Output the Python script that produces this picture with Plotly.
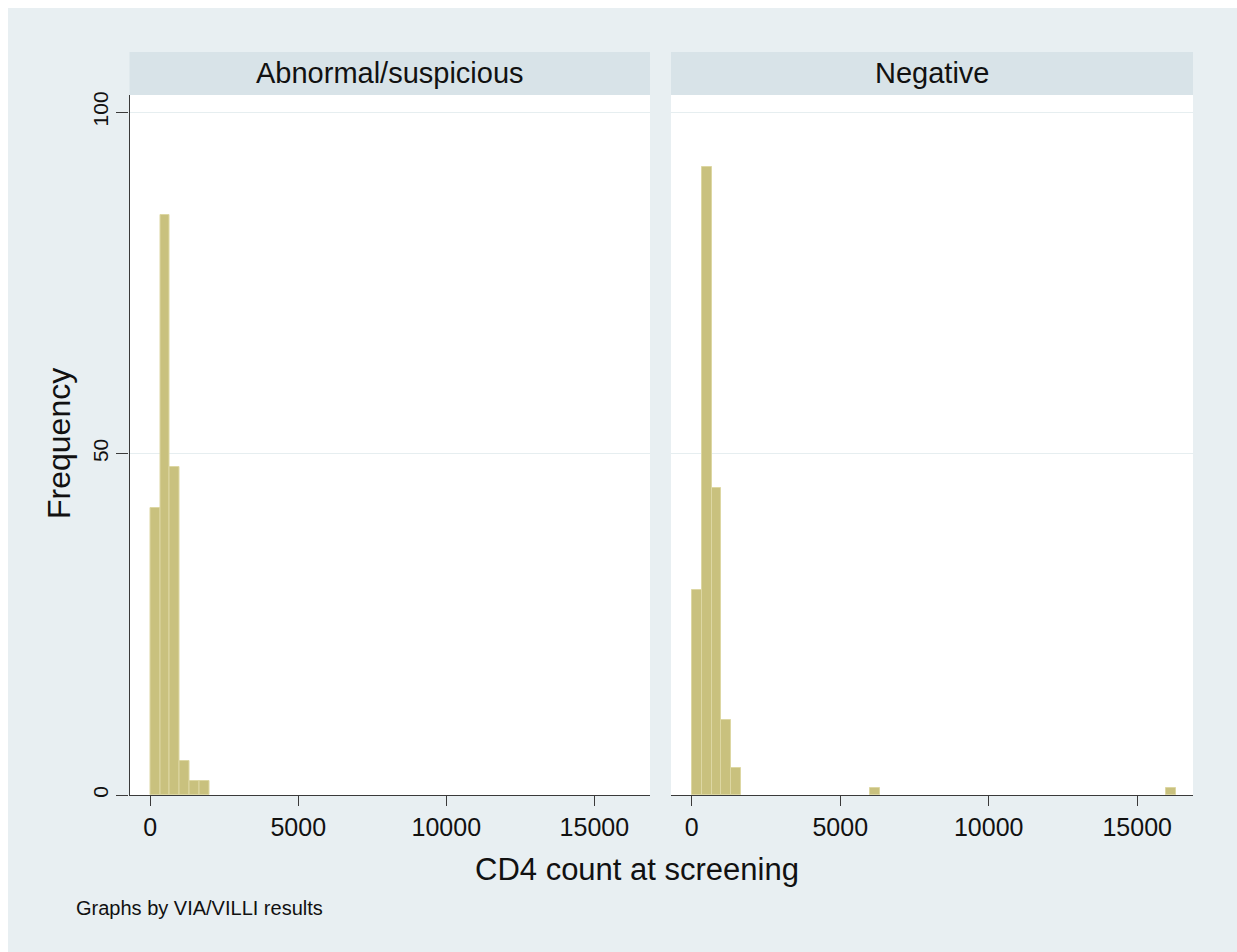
import plotly.graph_objects as go

# ---------------- data ----------------
panel_titles = ["Abnormal/suspicious", "Negative"]
bin_width = 333
abn_bin_start = [0, 333, 666, 999, 1332, 1665]
abn_freq = [42, 85, 48, 5, 2, 2]
neg_bin_start = [0, 333, 666, 999, 1332, 5994, 15984]
neg_freq = [30, 92, 45, 11, 4, 1, 1]
x_tick_vals = [0, 5000, 10000, 15000]
y_tick_vals = [0, 50, 100]
x_title = "CD4 count at screening"
y_title = "Frequency"
note = "Graphs by VIA/VILLI results"

# ---------------- layout helpers ----------------
W, H = 1237, 952


def fx(px):
    return px / W


def fy(py):
    return 1 - py / H


BG = "#e8eff2"
STRIP = "#d8e3e8"
BAR = "#c9c17e"
BAR_LINE = "#ddd7a3"
AX = "#3a3a3a"
TXT = "#111111"
FONT = "Liberation Sans, Arial, sans-serif"

panels = [
    dict(x0=129.5, x1=650, starts=abn_bin_start, freq=abn_freq, xa="x", ya="y"),
    dict(x0=671, x1=1193, starts=neg_bin_start, freq=neg_freq, xa="x2", ya="y2"),
]
plot_top, plot_bot = 95, 795
strip_top = 52

fig = go.Figure()
for p in panels:
    fig.add_trace(go.Bar(
        x=p["starts"], y=p["freq"], width=bin_width, offset=0,
        xaxis=p["xa"], yaxis=p["ya"],
        marker=dict(color=BAR, line=dict(color=BAR_LINE, width=1)),
        showlegend=False, hoverinfo="x+y",
    ))

xaxis_common = dict(
    range=[-700, 16880], showline=True, linecolor=AX, linewidth=1.3,
    ticks="outside", ticklen=10, tickwidth=1.3, tickcolor=AX,
    tickvals=x_tick_vals, ticktext=[str(v) for v in x_tick_vals],
    tickfont=dict(family=FONT, size=25, color=TXT),
    showgrid=False, zeroline=False, automargin=False, fixedrange=True,
)
yaxis_common = dict(
    range=[0, 102.5], domain=[fy(plot_bot), fy(plot_top)],
    tickvals=y_tick_vals, showgrid=True, gridcolor="#e6eef0", gridwidth=1.3,
    zeroline=False, automargin=False, fixedrange=True,
)

fig.update_layout(
    width=W, height=H,
    margin=dict(l=0, r=0, t=0, b=0),
    paper_bgcolor=BG, plot_bgcolor="white",
    bargap=0,
    xaxis=dict(domain=[fx(panels[0]["x0"]), fx(panels[0]["x1"])], anchor="y", **xaxis_common),
    xaxis2=dict(domain=[fx(panels[1]["x0"]), fx(panels[1]["x1"])], anchor="y2", **xaxis_common),
    yaxis=dict(anchor="x", showline=True, linecolor=AX, linewidth=1.3,
               ticks="outside", ticklen=12, tickwidth=1.3, tickcolor=AX,
               tickangle=-90, tickfont=dict(family=FONT, size=21, color=TXT),
               **yaxis_common),
    yaxis2=dict(anchor="x2", showline=False, ticks="", showticklabels=False,
                **yaxis_common),
)

shapes = [
    # white frame at top and left edge
    dict(type="rect", xref="paper", yref="paper", x0=0, x1=1, y0=fy(8), y1=1,
         fillcolor="white", line=dict(width=0), layer="below"),
    dict(type="rect", xref="paper", yref="paper", x0=0, x1=fx(8), y0=0, y1=1,
         fillcolor="white", line=dict(width=0), layer="below"),
]
annotations = []
for p, title in zip(panels, panel_titles):
    shapes.append(dict(type="rect", xref="paper", yref="paper",
                       x0=fx(p["x0"]), x1=fx(p["x1"]), y0=fy(plot_top), y1=fy(strip_top),
                       fillcolor=STRIP, line=dict(width=0), layer="below"))
    annotations.append(dict(text=title, xref="paper", yref="paper",
                            x=fx((p["x0"] + p["x1"]) / 2), y=fy((strip_top + plot_top) / 2),
                            xanchor="center", yanchor="middle", showarrow=False,
                            font=dict(family=FONT, size=29, color=TXT)))

annotations.append(dict(text=x_title, xref="paper", yref="paper",
                        x=fx(637), y=fy(869), xanchor="center", yanchor="middle",
                        showarrow=False, font=dict(family=FONT, size=31, color=TXT)))
annotations.append(dict(text=y_title, xref="paper", yref="paper",
                        x=fx(59), y=fy(444), xanchor="center", yanchor="middle",
                        textangle=-90, showarrow=False,
                        font=dict(family=FONT, size=32, color=TXT)))
annotations.append(dict(text=note, xref="paper", yref="paper",
                        x=fx(74), y=fy(908), xanchor="left", yanchor="middle",
                        showarrow=False, font=dict(family=FONT, size=20, color=TXT)))

fig.update_layout(shapes=shapes, annotations=annotations)
fig.write_html("out.html")
